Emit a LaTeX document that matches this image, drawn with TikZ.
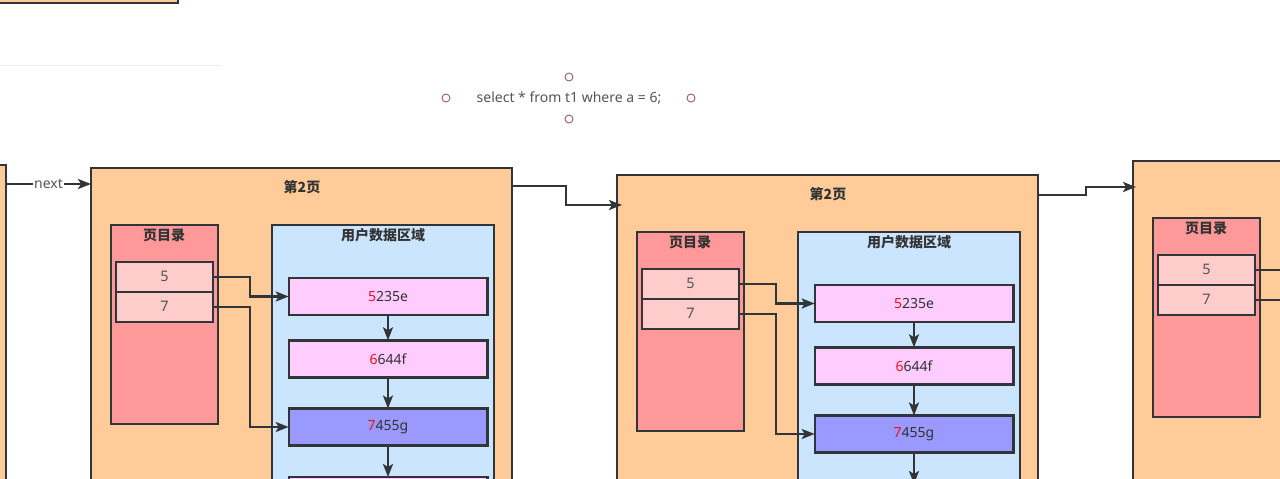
\documentclass[tikz,border=0pt]{standalone}
\usepackage{fontspec}
\setmainfont{Noto Sans}
\newfontfamily\cjk{Noto Sans CJK SC}
\usetikzlibrary{arrows.meta,calc}
\definecolor{pageor}{HTML}{FFCC99}
\definecolor{dirred}{HTML}{FF9999}
\definecolor{entpink}{HTML}{FFCCCC}
\definecolor{datablue}{HTML}{CCE5FF}
\definecolor{recpink}{HTML}{FFCCFF}
\definecolor{recblue}{HTML}{9999FF}
\definecolor{edgec}{HTML}{323538}
\definecolor{txt}{HTML}{333333}
\definecolor{txtgray}{HTML}{555555}
\definecolor{circc}{HTML}{A05A6A}
\definecolor{hotred}{HTML}{F01020}
\tikzset{
 box/.style={draw=edgec, line width=2.4pt, inner sep=0pt, outer sep=0pt, anchor=center},
 pagebox/.style={box, fill=pageor},
 dirbox/.style={box, fill=dirred, minimum width=107pt, minimum height=199pt},
 entbox/.style={box, fill=entpink, minimum width=96.7pt, minimum height=30pt, font=\fontsize{14.5}{16}\selectfont, text=txtgray},
 databox/.style={box, fill=datablue, minimum width=222pt, minimum height=395pt},
 recbox/.style={box, fill=recpink, minimum width=198.6pt, minimum height=37pt, font=\fontsize{14}{16}\selectfont, text=txt},
 hotbox/.style={recbox, fill=recblue},
 conn/.style={draw=edgec, line width=2.4pt, -{Stealth[length=13pt,width=10pt,inset=3pt]}},
 wire/.style={draw=edgec, line width=2.4pt},
 ttl/.style={font=\cjk\bfseries\fontsize{14}{16}\selectfont, text=txt, inner sep=0pt},
 dotc/.style={circle, draw=circc, line width=0.9pt, minimum size=8pt, inner sep=0pt},
 plain/.style={font=\fontsize{14}{16}\selectfont, text=txtgray, inner sep=1pt}
}
\newcommand\hotd[1]{\textbf{\textcolor{hotred}{#1}}}
\newcommand\drawpg[3]{%
 \begin{scope}[shift={(#2,#3)}]
 \node[pagebox, minimum width=421pt, minimum height=432pt] (#1pg) at (301.5,384) {};
 \node[ttl] (#1tt) at (302,187) {第2页};
 \node[dirbox] (#1dir) at (164.2,324.5) {};
 \node[ttl] (#1dt) at (164.2,235.5) {页目录};
 \node[entbox] (#1e5) at (164.4,276.7) {5};
 \node[entbox] (#1e7) at (164.4,306.7) {7};
 \node[databox] (#1dat) at (383,422.5) {};
 \node[ttl] (#1ut) at (383,235.5) {用户数据区域};
 \node[recbox] (#1r1) at (388,296.5) {\hotd{5}235e};
 \node[recbox] (#1r2) at (388,358.8) {\hotd{6}644f};
 \node[hotbox] (#1r3) at (388,427) {\hotd{7}455g};
 \node[recbox] (#1r4) at (388,495.5) {};
 \draw[conn] (#1r1.south) -- (#1r2.north);
 \draw[conn] (#1r2.south) -- (#1r3.north);
 \draw[conn] (#1r3.south) -- (#1r4.north);
 \draw[conn] (#1e5.east) -- ++(37.5,0) |- (#1r1.west);
 \draw[conn] (#1e7.east) -- ++(37.5,0) |- (#1r3.west);
 \end{scope}}
\begin{document}
\begin{tikzpicture}[x=1pt,y=-1pt]
\useasboundingbox (0,0) rectangle (1280,479);
\fill[white] (0,0) rectangle (1280,479);
\clip (0,0) rectangle (1280,479);
% top-left partial box
\node[pagebox, minimum width=300pt, minimum height=60pt] (topbox) at (28,-27) {};
% faint line
\draw[black!7, line width=1pt] (0,65) -- (222,65);
% query text with handles
\node[plain] (q) at (569,98) {select * from t1 where a = 6;};
\node[dotc] (c1) at (569,77) {};
\node[dotc] (c2) at (446,98) {};
\node[dotc] (c3) at (691,98) {};
\node[dotc] (c4) at (569,119) {};
% left partial page
\node[pagebox, minimum width=200pt, minimum height=400pt] (zpg) at (-94,365) {};
% full pages
\drawpg{a}{0}{0}
\drawpg{b}{526}{7}
% right partial page (only its left part is in view)
\begin{scope}[shift={(1042,-7)}]
 \node[pagebox, minimum width=421pt, minimum height=432pt] (cpg) at (301.5,384) {};
 \node[dirbox] (cdir) at (164.2,324.5) {};
 \node[ttl] (cdt) at (164.2,235.5) {页目录};
 \node[entbox] (ce5) at (164.4,276.7) {5};
 \node[entbox] (ce7) at (164.4,306.7) {7};
 \coordinate (cx5) at (250,276.7);
 \coordinate (cx7) at (250,306.7);
 \draw[wire] (ce5.east) -- (cx5);
 \draw[wire] (ce7.east) -- (cx7);
\end{scope}
% links between pages
\draw[conn] ($(zpg.north east)+(0,19)$) -- node[plain, fill=white, inner sep=1.5pt] (nx) {next} ($(apg.north west)+(0,16)$);
\draw[conn] ($(apg.north east)+(0,18)$) -- ++(54,0) |- ($(bpg.north west)+(5,30)$);
\draw[conn] ($(bpg.north east)+(0,20)$) -- ++(48,0) |- ($(cpg.north west)+(3,26)$);
\end{tikzpicture}
\end{document}
